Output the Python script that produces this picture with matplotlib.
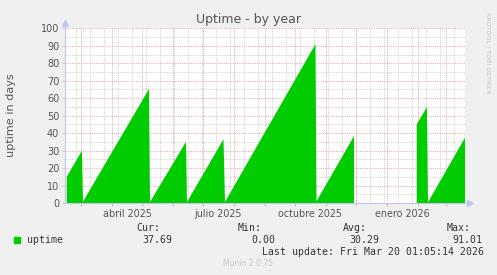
import numpy as np
import pandas as pd
import matplotlib
matplotlib.use("Agg")
import matplotlib.pyplot as plt

# uptime (days) at the corners of the sawtooth
# NaN marks the stretch with no data (Dec 2025 - Jan 2026)
sample_times = [
    "2025-02-14 11:00", "2025-03-01 18:00", "2025-03-02 18:00",
    "2025-05-07 18:00", "2025-05-08 18:00",
    "2025-06-13 18:00", "2025-06-14 18:00",
    "2025-07-21 06:00", "2025-07-22 18:00",
    "2025-10-21 06:00", "2025-10-22 06:00",
    "2025-11-28 18:00", "2025-12-30 00:00",
    "2026-01-30 11:00", "2026-02-09 18:00", "2026-02-10 18:00",
    "2026-03-20 01:05",
]
uptime = [
    15.0, 30.0, 0.8,
    65.3, 0.6,
    35.0, 0.6,
    36.5, 0.6,
    91.0, 1.0,
    38.3, np.nan,
    45.0, 55.0, 0.4,
    37.69,
]

label_dates = ["2025-04-16", "2025-07-16", "2025-10-16", "2026-01-16"]
label_texts = ["abril 2025", "julio 2025", "octubre 2025", "enero 2026"]

stat_names = ["Cur:", "Min:", "Avg:", "Max:"]
stat_values = ["37.69", "0.00", "30.29", "91.01"]

start = pd.Timestamp("2025-02-13 01:05:14")
end = pd.Timestamp("2026-03-20 01:05:14")

W, H = 497, 275
green = "#00cc00"
axis_col = "#c4c4f2"
major_col = "#e8a6a6"
minor_col = "#cfcfcf"
text_col = "#555555"


def fx(px):
    return px / W


def fy(py):
    return 1 - py / H


fig = plt.figure(figsize=(W / 100, H / 100), dpi=100, facecolor="#f0f0f0")
ax = fig.add_axes([fx(65.3), fy(203), 400 / W, 174.7 / H])
ax.set_facecolor("white")
for s in ax.spines.values():
    s.set_visible(False)

ax.set_xlim(start, end)
ax.set_ylim(0, 100)

# grid: grey every 2 weeks / every 5, red at month starts / every 10
grid_kw = dict(lw=0.72, ls=(0, (1, 1.2)), snap=True)
biweekly = pd.date_range("2025-02-24", end, freq="14D")
month_starts = pd.date_range("2025-03-01", end, freq="MS")
ax.vlines(biweekly, 0, 100, color=minor_col, zorder=1, **grid_kw)
ax.hlines(range(5, 100, 10), start, end, color=minor_col, zorder=1, **grid_kw)
ax.vlines(month_starts, 0, 100, color=major_col, zorder=2, **grid_kw)
ax.hlines(range(10, 101, 10), start, end, color=major_col, zorder=2, **grid_kw)

x = pd.to_datetime(sample_times)
ax.fill_between(x, np.array(uptime), 0, color=green, lw=0, zorder=3)

# ticks
ax.set_yticks(range(0, 101, 10))
ax.tick_params(axis="y", length=2, width=0.7, color=axis_col, pad=2.4,
               labelsize=7, labelcolor=text_col)
ax.set_xticks(pd.to_datetime(label_dates))
ax.set_xticklabels(label_texts)
ax.set_xticks(month_starts, minor=True)
ax.tick_params(axis="x", which="major", length=0, pad=4.2,
               labelsize=6.9, labelcolor=text_col)
ax.tick_params(axis="x", which="minor", length=2, width=0.7, color=major_col)

# axis lines with arrows
ax.plot([0, 0], [0, 1.02], transform=ax.transAxes, color=axis_col, lw=0.8,
        clip_on=False, zorder=5)
ax.plot([0, 1.005], [0, 0], transform=ax.transAxes, color=axis_col, lw=0.8,
        clip_on=False, zorder=5)
ax.plot(0, 1.03, marker="^", ms=4, color=axis_col, transform=ax.transAxes,
        clip_on=False, zorder=5)
ax.plot(1.011, 0, marker=">", ms=4, color=axis_col, transform=ax.transAxes,
        clip_on=False, zorder=5)

fig.text(fx(249), fy(19.5), "Uptime - by year", ha="center", va="center",
         fontsize=9, color=text_col)
fig.text(fx(11.5), fy(115), "uptime in days", ha="center", va="center",
         rotation=90, fontsize=8.1, color=text_col)
fig.text(fx(488), fy(53), "RRDTOOL / TOBI OETIKER", ha="center", va="center",
         rotation=270, fontsize=4.6, color="#c4c4c4")

# legend
mono = dict(family="DejaVu Sans Mono", fontsize=7.1, color="#333333", va="baseline")
fig.add_artist(plt.Rectangle((fx(14), fy(242.7)), 6 / W, 6 / H,
                             transform=fig.transFigure, color=green))
fig.text(fx(26.7), fy(243), "uptime", **mono)
name_x = [136, 238, 343.3, 446.7]
value_x = [142, 251.2, 349.3, 452.7]
for nm, val, nx, vx in zip(stat_names, stat_values, name_x, value_x):
    fig.text(fx(nx), fy(231), nm, **mono)
    fig.text(fx(vx), fy(243), val, **mono)
fig.text(fx(261.7), fy(255), "Last update: Fri Mar 20 01:05:14 2026", **mono)
fig.text(fx(248), fy(264), "Munin 2.0.75", ha="center", va="center",
         fontsize=5.5, color="#c8c8c8")

fig.savefig("out.png", dpi=100, facecolor=fig.get_facecolor())
